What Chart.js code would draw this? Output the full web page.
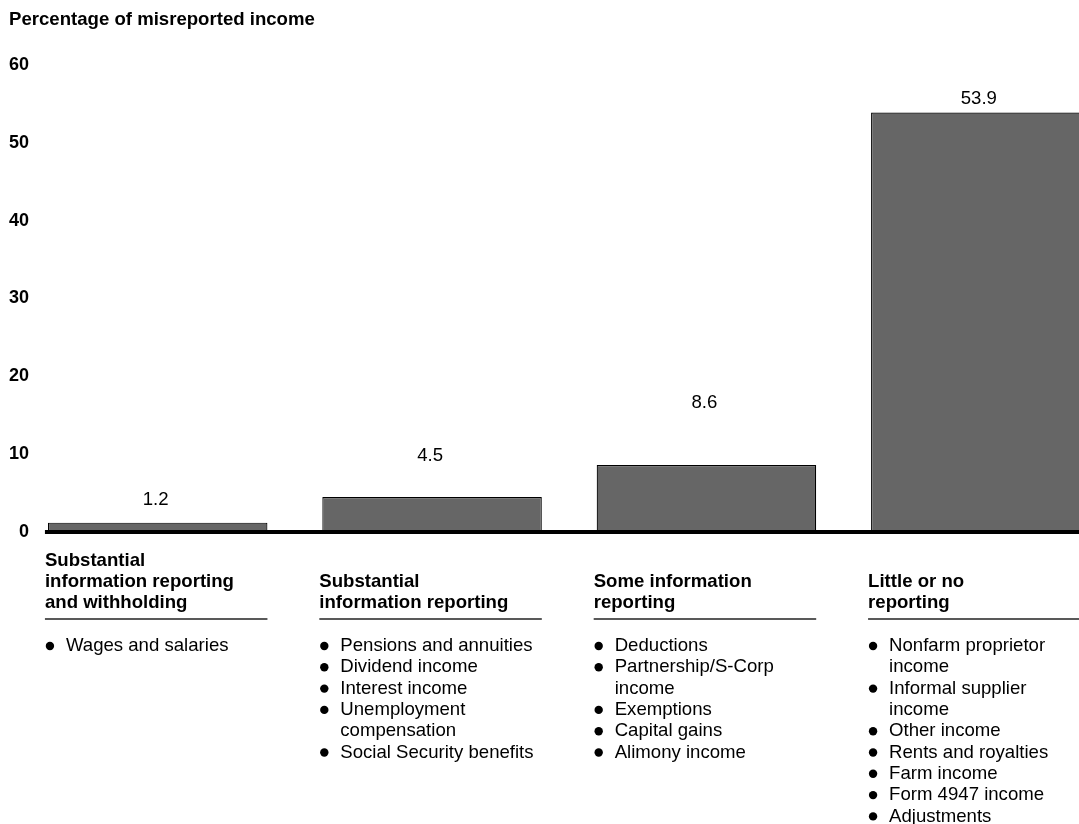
<!DOCTYPE html>
<html>
<head>
<meta charset="utf-8">
<script src="https://cdn.jsdelivr.net/npm/chart.js@4/dist/chart.umd.min.js"></script>
<style>
  html, body { margin: 0; padding: 0; background: #fff; overflow: hidden; }
  #wrap { width: 1118px; height: 824px; position: relative; }
</style>
</head>
<body>
<div id="wrap"><canvas id="chart"></canvas></div>
<script>
// --- Data ---
const categories = ['Substantial information reporting and withholding', 'Substantial information reporting', 'Some information reporting', 'Little or no reporting'];
const misreported = [1.2, 4.5, 8.6, 53.9];
const yMin = 0, yMax = 60, yStep = 10;
const headerLines = [
  ['Substantial', 'information reporting', 'and withholding'],
  ['Substantial', 'information reporting'],
  ['Some information', 'reporting'],
  ['Little or no', 'reporting']
];
const itemLists = [
  [['Wages and salaries']],
  [['Pensions and annuities'], ['Dividend income'], ['Interest income'], ['Unemployment', 'compensation'], ['Social Security benefits']],
  [['Deductions'], ['Partnership/S-Corp', 'income'], ['Exemptions'], ['Capital gains'], ['Alimony income']],
  [['Nonfarm proprietor', 'income'], ['Informal supplier', 'income'], ['Other income'], ['Rents and royalties'], ['Farm income'], ['Form 4947 income'], ['Adjustments']]
];
// gap (px) between bar top and its value label, as placed in the original
const labelGap = [23, 41, 62, 14];

const FONT = '"Liberation Sans", Arial, Helvetica, sans-serif';
Chart.defaults.font.family = FONT;
Chart.defaults.color = '#000';

// --- Value labels, baseline and category text ---
const decorPlugin = {
  id: 'decor',
  afterDatasetsDraw(chart) {
    const ctx = chart.ctx;
    const bars = chart.getDatasetMeta(0).data;
    const y0 = chart.scales.y.getPixelForValue(0);
    // value labels
    ctx.save();
    ctx.font = '18.6px ' + FONT;
    ctx.fillStyle = '#000';
    ctx.textAlign = 'center';
    ctx.textBaseline = 'middle';
    bars.forEach((b, i) => {
      ctx.fillText(misreported[i].toFixed(1), b.x - 2, b.y - labelGap[i]);
    });
    // thick baseline
    const first = bars[0];
    ctx.strokeStyle = '#000';
    ctx.lineWidth = 4;
    ctx.beginPath();
    ctx.moveTo(first.x - first.width / 2 - 3, y0);
    ctx.lineTo(chart.chartArea.right, y0);
    ctx.stroke();
    ctx.restore();
  },
  afterDraw(chart) {
    const ctx = chart.ctx;
    const bars = chart.getDatasetMeta(0).data;
    const ruleY = chart.chartArea.bottom + 87;
    ctx.save();
    ctx.fillStyle = '#000';
    ctx.textAlign = 'left';
    ctx.textBaseline = 'middle';
    bars.forEach((b, i) => {
      const left = b.x - b.width / 2 - 3;
      const right = b.x + b.width / 2;
      // header (bottom aligned to the rule)
      ctx.font = 'bold 18.6px ' + FONT;
      const hl = headerLines[i];
      hl.forEach((line, k) => {
        ctx.fillText(line, left, ruleY - 16 - (hl.length - 1 - k) * 21);
      });
      ctx.strokeStyle = '#222';
      ctx.lineWidth = 1.3;
      ctx.beginPath();
      ctx.moveTo(left, ruleY);
      ctx.lineTo(right, ruleY);
      ctx.stroke();
      // bullet list
      ctx.font = '18.6px ' + FONT;
      let y = ruleY + 27;
      itemLists[i].forEach(item => {
        ctx.beginPath();
        ctx.arc(left + 5, y, 4.2, 0, Math.PI * 2);
        ctx.fill();
        item.forEach(line => {
          ctx.fillText(line, left + 21, y);
          y += 21.3;
        });
      });
    });
    ctx.restore();
  }
};

new Chart(document.getElementById('chart'), {
  type: 'bar',
  data: {
    labels: categories,
    datasets: [{
      data: misreported,
      backgroundColor: '#666666',
      borderColor: '#000',
      borderWidth: 1.2,
      borderSkipped: 'bottom',
      barPercentage: 0.8,
      categoryPercentage: 1.0
    }]
  },
  options: {
    responsive: true,
    maintainAspectRatio: false,
    animation: false,
    layout: { padding: { left: 9, right: 0, top: 0, bottom: 292 } },
    plugins: {
      legend: { display: false },
      tooltip: { enabled: false },
      title: {
        display: true,
        text: 'Percentage of misreported income',
        align: 'start',
        color: '#000',
        font: { size: 18.6, weight: 'bold' },
        lineHeight: 1.2,
        padding: { top: 9, bottom: 33.7 }
      }
    },
    scales: {
      x: {
        display: false,
        grid: { display: false }
      },
      y: {
        min: yMin,
        max: yMax,
        afterFit(scale) { scale.width = 11.5; },
        grid: { display: false, drawTicks: false },
        border: { display: false },
        ticks: {
          stepSize: yStep,
          mirror: true,
          crossAlign: 'far',
          padding: -11.5,
          color: '#000',
          font: { size: 18, weight: 'bold' }
        }
      }
    }
  },
  plugins: [decorPlugin]
});
</script>
</body>
</html>
